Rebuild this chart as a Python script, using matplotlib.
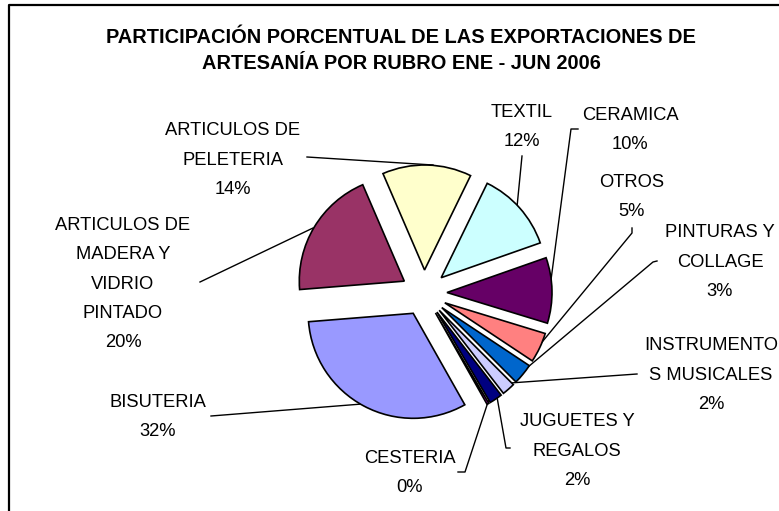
import matplotlib
matplotlib.use("Agg")
import matplotlib.pyplot as plt

# datos (porcentajes)
rubros = ["TEXTIL", "CERAMICA", "OTROS", "PINTURAS Y\nCOLLAGE", "INSTRUMENTO\nS MUSICALES",
          "JUGUETES Y\nREGALOS", "CESTERIA", "BISUTERIA",
          "ARTICULOS DE\nMADERA Y\nVIDRIO\nPINTADO", "ARTICULOS DE\nPELETERIA"]
valores = [12.4, 10.1, 4.6, 3.2, 2.0, 2.0, 0.3, 31.9, 19.8, 13.7]
colores = ["#CCFFFF", "#660066", "#FF8080", "#0066CC", "#CCCCFF",
           "#000080", "#FF00FF", "#9999FF", "#993366", "#FFFFCC"]

# posiciones de etiquetas (pixeles de imagen, centro del bloque)
pos_x = [522, 630, 632, 720, 711, 577, 410, 158, 123, 233]
pos_y = [127, 130, 197, 262, 375, 451, 473, 417, 284, 160]

# lineas guia (pixeles de imagen)
guias = [
    [(522, 156), (517, 207)],
    [(578, 129), (571, 129), (549, 295)],
    [(632, 228), (632, 233), (538, 347)],
    [(657, 261), (653, 262), (528, 367)],
    [(637, 374), (510, 383)],
    [(510, 448), (506, 448), (497, 397)],
    [(458, 472), (465, 472), (489, 399)],
    [(211, 416), (362, 404)],
    [(200, 282), (313, 228)],
    [(307, 157), (433, 165)],
]

W, H = 779, 511
fig = plt.figure(figsize=(W / 100, H / 100), dpi=100)
ax = fig.add_axes([0, 0, 1, 1])

total = sum(valores)
textos = [f"{r}\n{round(v / total * 100):.0f}%" for r, v in zip(rubros, valores)]

# explode en pixeles (matplotlib lo usa en unidades de datos)
ax.pie(valores, colors=colores, explode=[23] * len(valores), startangle=64,
       counterclock=False, radius=105, center=(424, H - 293),
       wedgeprops=dict(edgecolor="black", linewidth=1.2, zorder=3))

for g in guias:
    xs = [p[0] for p in g]
    ys = [H - p[1] for p in g]
    ax.plot(xs, ys, color="black", lw=1.0, zorder=2)

for t, x, y in zip(textos, pos_x, pos_y):
    ax.text(x, H - y, t, ha="center", va="center", multialignment="center",
            fontsize=13.2, family="Liberation Sans", linespacing=1.95, zorder=4)

ax.text(401, H - 50.5, "PARTICIPACIÓN PORCENTUAL DE LAS EXPORTACIONES DE\nARTESANÍA POR RUBRO ENE - JUN 2006",
        ha="center", va="center", fontsize=14.4, fontweight="bold", family="Liberation Sans",
        linespacing=1.45)

# marco del grafico
ax.plot([9, 9, W], [0, H - 5, H - 5], color="black", lw=1.6, zorder=5)

ax.set_xlim(0, W)
ax.set_ylim(0, H)
ax.set_aspect("auto")
ax.axis("off")

fig.savefig("out.png", dpi=100)
